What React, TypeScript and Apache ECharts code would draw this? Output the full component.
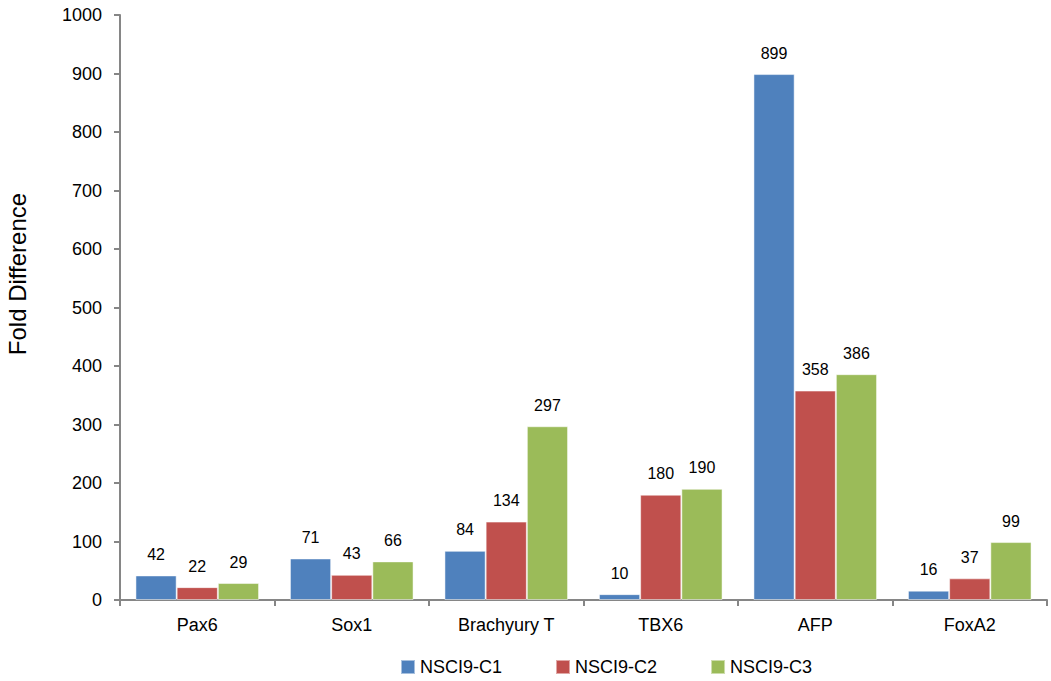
import React, { useEffect, useRef } from "react";
import * as echarts from "echarts";

const categories = ["Pax6", "Sox1", "Brachyury T", "TBX6", "AFP", "FoxA2"];
const seriesNames = ["NSCI9-C1", "NSCI9-C2", "NSCI9-C3"];
const c1Values = [42, 71, 84, 10, 899, 16];
const c2Values = [22, 43, 134, 180, 358, 37];
const c3Values = [29, 66, 297, 190, 386, 99];
const colors = ["#4F81BD", "#C0504D", "#9BBB59"];

const FONT = "'Liberation Sans', Arial, sans-serif";

export default function App() {
  const ref = useRef<HTMLDivElement>(null);
  useEffect(() => {
    if (!ref.current) return;
    const chart = echarts.init(ref.current, null, { renderer: "svg" });
    const data = [c1Values, c2Values, c3Values];
    chart.setOption({
      animation: false,
      textStyle: { fontFamily: FONT },
      grid: { left: 120, right: 4, top: 15, bottom: 81, containLabel: false },
      legend: {
        top: 658,
        left: 400,
        padding: 0,
        itemWidth: 14,
        itemHeight: 14,
        itemGap: 53,
        icon: "rect",
        textStyle: { fontSize: 18, color: "#000", fontFamily: FONT },
        data: seriesNames,
      },
      graphic: [
        {
          type: "text",
          x: 17,
          y: 274,
          rotation: Math.PI / 2,
          style: {
            text: "Fold Difference",
            fontSize: 24,
            fontFamily: FONT,
            fill: "#000",
            textAlign: "center",
            textVerticalAlign: "middle",
          },
        },
      ],
      xAxis: {
        type: "category",
        data: categories,
        axisLine: { lineStyle: { color: "#868686", width: 2 } },
        axisTick: { show: true, alignWithLabel: false, length: 6, lineStyle: { color: "#868686", width: 2 } },
        axisLabel: { color: "#000", fontSize: 18, margin: 16, fontFamily: FONT },
      },
      yAxis: {
        type: "value",
        min: 0,
        max: 1000,
        interval: 100,
        axisLine: { show: true, lineStyle: { color: "#868686", width: 2 } },
        axisTick: { show: true, length: 6, lineStyle: { color: "#868686", width: 2 } },
        splitLine: { show: false },
        axisLabel: { color: "#000", fontSize: 18, margin: 18, fontFamily: FONT, formatter: (v: number) => String(v) },
      },
      series: seriesNames.map((name, i) => ({
        name,
        type: "bar",
        data: data[i],
        barGap: "0%",
        barCategoryGap: "20%",
        itemStyle: { color: colors[i], borderColor: "rgba(255,255,255,0.5)", borderWidth: 1 },
        label: {
          show: true,
          position: "top",
          distance: 13,
          color: "#000",
          fontSize: 16,
          fontFamily: FONT,
        },
      })),
    });
    return () => chart.dispose();
  }, []);
  return <div ref={ref} style={{ width: 1051, height: 681, position: "absolute", left: 0, top: 0 }} />;
}
